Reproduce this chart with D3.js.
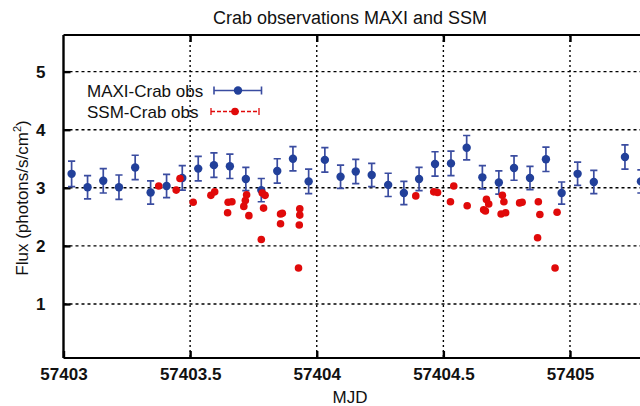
<!DOCTYPE html>
<html>
<head>
<meta charset="utf-8">
<script src="https://cdn.jsdelivr.net/npm/d3@7/dist/d3.min.js"></script>
<style>
  html, body { margin: 0; padding: 0; background: #ffffff; }
  svg { display: block; font-family: "Liberation Sans", Arial, Helvetica, sans-serif; }
</style>
</head>
<body>
<svg id="chart" width="640" height="406"></svg>
<script>
// ---- Data ----
const maxiMJD = [57403.032, 57403.095, 57403.157, 57403.219, 57403.283, 57403.344, 57403.407, 57403.469,
  57403.532, 57403.594, 57403.657, 57403.720, 57403.781, 57403.844, 57403.906, 57403.968,
  57404.032, 57404.094, 57404.154, 57404.217, 57404.282, 57404.344, 57404.404, 57404.467,
  57404.530, 57404.592, 57404.654, 57404.719, 57404.779, 57404.842, 57404.905, 57404.967,
  57405.030, 57405.094, 57405.217, 57405.280];
const maxiFlux = [3.24, 3.01, 3.12, 3.01, 3.35, 2.92, 3.03, 3.17,
  3.33, 3.39, 3.37, 3.15, 2.96, 3.29, 3.50, 3.11,
  3.48, 3.19, 3.28, 3.22, 3.05, 2.91, 3.15, 3.41,
  3.42, 3.69, 3.18, 3.09, 3.34, 3.17, 3.49, 2.91,
  3.24, 3.10, 3.53, 3.11];
const maxiErr = [0.22, 0.20, 0.21, 0.21, 0.21, 0.20, 0.20, 0.21,
  0.21, 0.21, 0.21, 0.20, 0.20, 0.21, 0.21, 0.21,
  0.21, 0.20, 0.21, 0.20, 0.20, 0.20, 0.20, 0.21,
  0.21, 0.21, 0.20, 0.20, 0.21, 0.20, 0.21, 0.19,
  0.20, 0.20, 0.21, 0.20];

const ssmMJD = [57403.376, 57403.445, 57403.460, 57403.512, 57403.582, 57403.597, 57403.648, 57403.650,
  57403.665, 57403.712, 57403.718, 57403.723, 57403.732, 57403.781, 57403.785, 57403.790,
  57403.796, 57403.857, 57403.857, 57403.864, 57403.928, 57403.931, 57403.933, 57403.933,
  57404.391, 57404.462, 57404.477, 57404.528, 57404.541, 57404.594, 57404.659, 57404.666,
  57404.670, 57404.679, 57404.728, 57404.733, 57404.739, 57404.746, 57404.801, 57404.811,
  57404.872, 57404.875, 57404.881, 57404.941, 57404.949];
const ssmFlux = [3.03, 2.96, 3.16, 2.75, 2.87, 2.93, 2.57, 2.75,
  2.76, 2.68, 2.78, 2.88, 2.52, 2.11, 2.91, 2.65,
  2.87, 2.55, 2.38, 2.56, 1.62, 2.36, 2.64, 2.53,
  2.86, 2.93, 2.92, 2.76, 3.03, 2.69, 2.62, 2.60,
  2.80, 2.72, 2.55, 2.87, 2.76, 2.57, 2.74, 2.75,
  2.14, 2.76, 2.54, 1.62, 2.58];

const xTicks = [57403, 57403.5, 57404, 57404.5, 57405];
const xTickLabels = ["57403", "57403.5", "57404", "57404.5", "57405"];
const yTicks = [1, 2, 3, 4, 5];
const yTickLabels = ["1", "2", "3", "4", "5"];

const titleText = "Crab observations MAXI and SSM";
const xTitle = "MJD";
const seriesNames = ["MAXI-Crab obs", "SSM-Crab obs"];

// ---- Layout ----
const W = 640, H = 406;
const mLeft = 63.5, mTop = 35, mBottom = 358;
const svg = d3.select("#chart");

const x = d3.scaleLinear().domain([57403, 57405]).range([mLeft, 570]);
const y = d3.scaleLinear().domain([0.07, 5.63]).range([mBottom, mTop]);

const blue = "#22409a", blueBar = "#3a4ca0", red = "#e00a0a";

// grid
const grid = svg.append("g");
grid.selectAll("line.h").data(yTicks).join("line")
  .attr("x1", mLeft).attr("x2", W).attr("y1", d => y(d)).attr("y2", d => y(d))
  .attr("stroke", "#000").attr("stroke-width", 1.4).attr("stroke-dasharray", "3,3");
grid.selectAll("line.v").data(xTicks.filter(d => d > 57403)).join("line")
  .attr("x1", d => x(d)).attr("x2", d => x(d)).attr("y1", mTop).attr("y2", mBottom)
  .attr("stroke", "#000").attr("stroke-width", 1.4).attr("stroke-dasharray", "2,3");

// axes
const xAxis = d3.axisBottom(x).tickValues(xTicks).tickFormat((d, i) => xTickLabels[i])
  .tickSizeInner(-7).tickSizeOuter(0).tickPadding(10);
const gx = svg.append("g").attr("transform", `translate(0,${mBottom})`).call(xAxis);
gx.select(".domain").attr("stroke", "#000").attr("stroke-width", 2.2).attr("d", `M${mLeft},0H${W}`);
gx.selectAll(".tick line").attr("stroke", "#000").attr("stroke-width", 2.4);
gx.selectAll(".tick text").attr("font-size", 17).attr("font-weight", "bold")
  .attr("font-family", "'Liberation Sans', Arial, sans-serif").attr("fill", "#111").attr("y", 10).attr("dy", "0.71em");

const xAxisTop = d3.axisTop(x).tickValues(xTicks.filter(d => d > 57403)).tickFormat("")
  .tickSizeInner(-7).tickSizeOuter(0);
const gxt = svg.append("g").attr("transform", `translate(0,${mTop})`).call(xAxisTop);
gxt.select(".domain").attr("stroke", "#000").attr("stroke-width", 2.2).attr("d", `M${mLeft},0H${W}`);
gxt.selectAll(".tick line").attr("stroke", "#000").attr("stroke-width", 2.4);

const yAxis = d3.axisLeft(y).tickValues(yTicks).tickFormat((d, i) => yTickLabels[i])
  .tickSizeInner(-7).tickSizeOuter(0).tickPadding(18);
const gy = svg.append("g").attr("transform", `translate(${mLeft},0)`).call(yAxis);
gy.select(".domain").attr("stroke", "#000").attr("stroke-width", 2.4).attr("d", `M0,${mTop}V${mBottom}`);
gy.selectAll(".tick line").attr("stroke", "#000").attr("stroke-width", 2.4);
gy.selectAll(".tick text").attr("font-size", 17).attr("font-weight", "bold")
  .attr("font-family", "'Liberation Sans', Arial, sans-serif").attr("fill", "#111").attr("x", -18);

// titles
svg.append("text").attr("x", 350).attr("y", 24).attr("text-anchor", "middle")
  .attr("font-size", 18).attr("fill", "#111").text(titleText);
svg.append("text").attr("x", 350).attr("y", 403).attr("text-anchor", "middle")
  .attr("font-size", 17).attr("fill", "#111").text(xTitle);
const yl = svg.append("text").attr("transform", "translate(27.5,198) rotate(-90)")
  .attr("text-anchor", "middle").attr("font-size", 17).attr("fill", "#111");
yl.append("tspan").text("Flux (photons/s/cm");
yl.append("tspan").attr("font-size", 11).attr("dy", -7).text("2");
yl.append("tspan").attr("dy", 7).text(")");

// MAXI error bars and points
const maxi = maxiMJD.map((m, i) => ({ m, f: maxiFlux[i], e: maxiErr[i] }));
const gm = svg.append("g");
const cap = 3.6;
gm.selectAll("path.err").data(maxi).join("path")
  .attr("d", d => {
    const cx = x(d.m), y1 = y(d.f + d.e), y2 = y(d.f - d.e);
    return `M${cx},${y1}V${y2}M${cx - cap},${y1}H${cx + cap}M${cx - cap},${y2}H${cx + cap}`;
  })
  .attr("fill", "none").attr("stroke", blueBar).attr("stroke-width", 1.7);

// SSM points
const ssm = ssmMJD.map((m, i) => ({ m, f: ssmFlux[i] }));
svg.append("g").selectAll("circle").data(ssm).join("circle")
  .attr("cx", d => x(d.m)).attr("cy", d => y(d.f)).attr("r", 3.8).attr("fill", red);

gm.selectAll("circle").data(maxi).join("circle")
  .attr("cx", d => x(d.m)).attr("cy", d => y(d.f)).attr("r", 4.2).attr("fill", blue);

// legend
const lg = svg.append("g");
lg.append("text").attr("x", 87).attr("y", 96.5).attr("font-size", 17).attr("fill", "#111").text(seriesNames[0]);
lg.append("text").attr("x", 87).attr("y", 117.5).attr("font-size", 17).attr("fill", "#111").text(seriesNames[1]);
lg.append("path").attr("d", `M214,90.5H261.5M214,86.5V94.5M261.5,86.5V94.5`)
  .attr("stroke", blueBar).attr("stroke-width", 1.6).attr("fill", "none");
lg.append("circle").attr("cx", 238).attr("cy", 90.5).attr("r", 4.2).attr("fill", blue);
lg.append("path").attr("d", `M211,111.5H259`).attr("stroke", red).attr("stroke-width", 1.3)
  .attr("stroke-dasharray", "4,2").attr("fill", "none");
lg.append("path").attr("d", `M211,108V115M259,108V115`).attr("stroke", red).attr("stroke-width", 1.3).attr("fill", "none");
lg.append("circle").attr("cx", 235).attr("cy", 111.5).attr("r", 3.8).attr("fill", red);
</script>
</body>
</html>
